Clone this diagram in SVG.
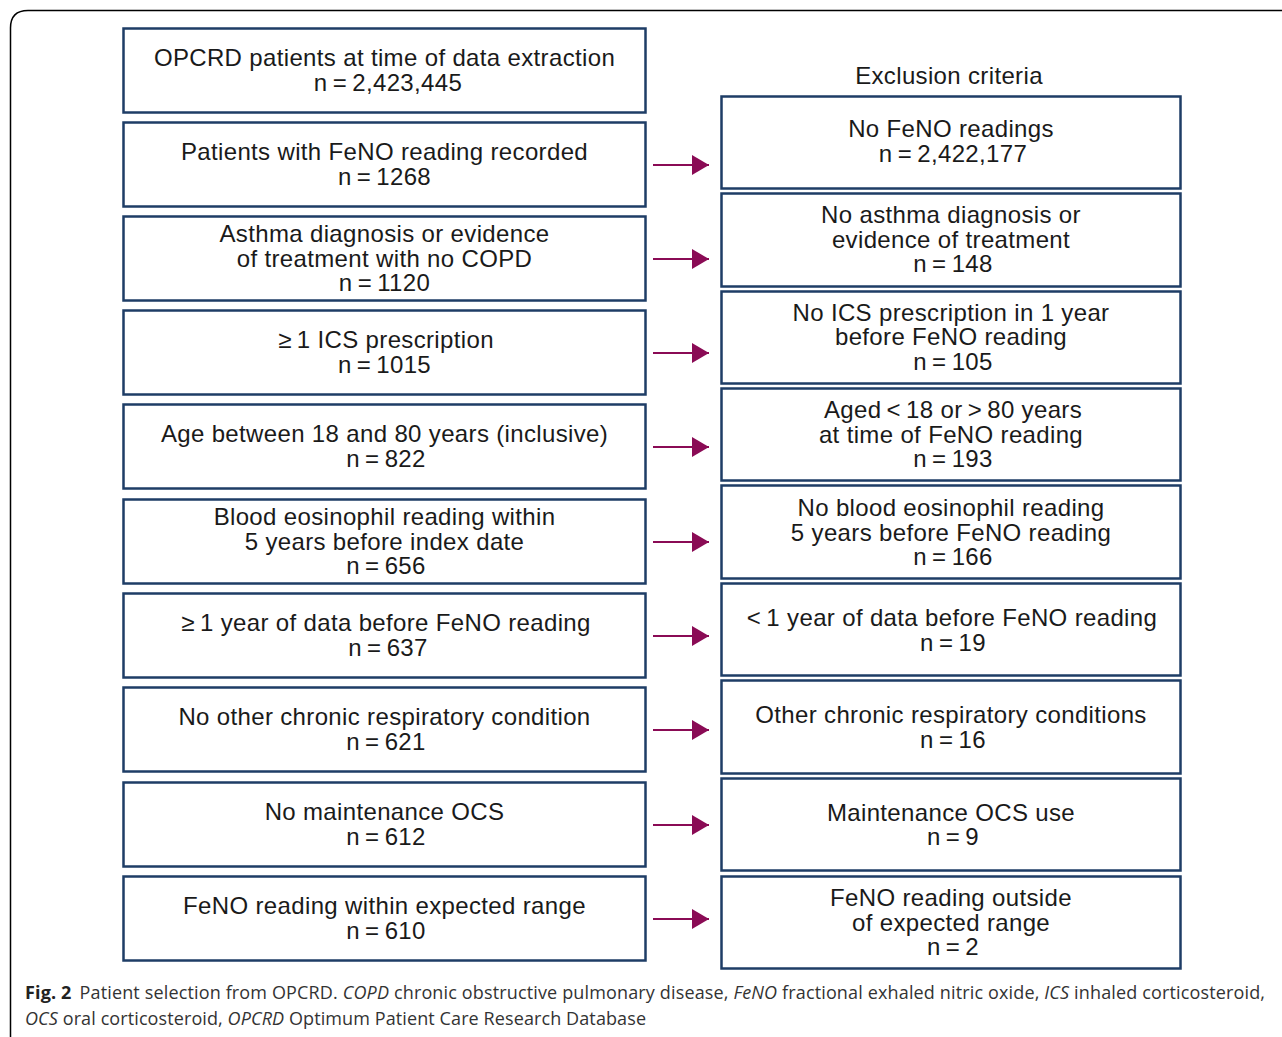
<svg xmlns="http://www.w3.org/2000/svg" width="1282" height="1037" viewBox="0 0 1282 1037">
<defs>
<style>
.box{fill:#fff;stroke:#1e3d66;stroke-width:2.5}
.t{font-family:"Liberation Sans",Arial,sans-serif;font-size:24px;letter-spacing:0.35px;fill:#1a1a1a;text-anchor:middle}
.conn line{stroke:#8a0b55;stroke-width:2.2}
.cap{font-family:"Open Sans","Noto Sans",sans-serif;font-size:18px;fill:#333}
</style>
<marker id="ah" viewBox="0 0 17 20" refX="17" refY="10" markerWidth="17" markerHeight="20" markerUnits="userSpaceOnUse" orient="auto">
<path d="M0,0 L17,10 L0,20 Z" fill="#8a0b55"/>
</marker>
</defs>
<rect width="1282" height="1037" fill="#fff"/>
<path d="M10.5,1040 L10.5,28 Q10.5,10.5 28,10.5 L1290,10.5" fill="none" stroke="#000" stroke-width="1.5"/>

<text class="t" x="949" y="84">Exclusion criteria</text>

<g id="inc1"><rect class="box" x="123.5" y="28.5" width="522" height="84"/><text class="t"><tspan x="384.5" y="66">OPCRD patients at time of data extraction</tspan><tspan x="388" y="90.5">n&#8201;=&#8201;2,423,445</tspan></text></g>
<g id="inc2"><rect class="box" x="123.5" y="122.5" width="522" height="84"/><text class="t"><tspan x="384.5" y="160">Patients with FeNO reading recorded</tspan><tspan x="384.5" y="184.5">n&#8201;=&#8201;1268</tspan></text></g>
<g id="inc3"><rect class="box" x="123.5" y="216.5" width="522" height="84"/><text class="t"><tspan x="384.5" y="242">Asthma diagnosis or evidence</tspan><tspan x="384.5" y="266.5">of treatment with no COPD</tspan><tspan x="384.5" y="291">n&#8201;=&#8201;1120</tspan></text></g>
<g id="inc4"><rect class="box" x="123.5" y="310.5" width="522" height="84"/><text class="t"><tspan x="386" y="348">≥&#8201;1 ICS prescription</tspan><tspan x="384.5" y="372.5">n&#8201;=&#8201;1015</tspan></text></g>
<g id="inc5"><rect class="box" x="123.5" y="404.5" width="522" height="84"/><text class="t"><tspan x="384.5" y="442">Age between 18 and 80 years (inclusive)</tspan><tspan x="386" y="466.5">n&#8201;=&#8201;822</tspan></text></g>
<g id="inc6"><rect class="box" x="123.5" y="499.5" width="522" height="84"/><text class="t"><tspan x="384.5" y="525">Blood eosinophil reading within</tspan><tspan x="384.5" y="549.5">5 years before index date</tspan><tspan x="386" y="574">n&#8201;=&#8201;656</tspan></text></g>
<g id="inc7"><rect class="box" x="123.5" y="593.5" width="522" height="84"/><text class="t"><tspan x="386" y="631">≥&#8201;1 year of data before FeNO reading</tspan><tspan x="388" y="655.5">n&#8201;=&#8201;637</tspan></text></g>
<g id="inc8"><rect class="box" x="123.5" y="687.5" width="522" height="84"/><text class="t"><tspan x="384.5" y="725">No other chronic respiratory condition</tspan><tspan x="386" y="749.5">n&#8201;=&#8201;621</tspan></text></g>
<g id="inc9"><rect class="box" x="123.5" y="782.5" width="522" height="84"/><text class="t"><tspan x="384.5" y="820">No maintenance OCS</tspan><tspan x="386" y="844.5">n&#8201;=&#8201;612</tspan></text></g>
<g id="inc10"><rect class="box" x="123.5" y="876.5" width="522" height="84"/><text class="t"><tspan x="384.5" y="914">FeNO reading within expected range</tspan><tspan x="386" y="938.5">n&#8201;=&#8201;610</tspan></text></g>

<g id="exc1"><rect class="box" x="721.5" y="96.5" width="459" height="92"/><text class="t"><tspan x="951" y="137">No FeNO readings</tspan><tspan x="953" y="161.5">n&#8201;=&#8201;2,422,177</tspan></text></g>
<g id="exc2"><rect class="box" x="721.5" y="193.5" width="459" height="93"/><text class="t"><tspan x="951" y="223">No asthma diagnosis or</tspan><tspan x="951" y="247.5">evidence of treatment</tspan><tspan x="953" y="272">n&#8201;=&#8201;148</tspan></text></g>
<g id="exc3"><rect class="box" x="721.5" y="291.5" width="459" height="92"/><text class="t"><tspan x="951" y="320.5">No ICS prescription in 1 year</tspan><tspan x="951" y="345">before FeNO reading</tspan><tspan x="953" y="369.5">n&#8201;=&#8201;105</tspan></text></g>
<g id="exc4"><rect class="box" x="721.5" y="388.5" width="459" height="92"/><text class="t"><tspan x="953" y="418">Aged&#8201;&lt;&#8201;18 or&#8201;&gt;&#8201;80 years</tspan><tspan x="951" y="442.5">at time of FeNO reading</tspan><tspan x="953" y="467">n&#8201;=&#8201;193</tspan></text></g>
<g id="exc5"><rect class="box" x="721.5" y="485.5" width="459" height="93"/><text class="t"><tspan x="951" y="516">No blood eosinophil reading</tspan><tspan x="951" y="540.5">5 years before FeNO reading</tspan><tspan x="953" y="565">n&#8201;=&#8201;166</tspan></text></g>
<g id="exc6"><rect class="box" x="721.5" y="583.5" width="459" height="92"/><text class="t"><tspan x="952" y="626">&lt;&#8201;1 year of data before FeNO reading</tspan><tspan x="953" y="650.5">n&#8201;=&#8201;19</tspan></text></g>
<g id="exc7"><rect class="box" x="721.5" y="680.5" width="459" height="93"/><text class="t"><tspan x="951" y="723">Other chronic respiratory conditions</tspan><tspan x="953" y="747.5">n&#8201;=&#8201;16</tspan></text></g>
<g id="exc8"><rect class="box" x="721.5" y="778.5" width="459" height="92"/><text class="t"><tspan x="951" y="820.5">Maintenance OCS use</tspan><tspan x="953" y="845">n&#8201;=&#8201;9</tspan></text></g>
<g id="exc9"><rect class="box" x="721.5" y="876.5" width="459" height="92"/><text class="t"><tspan x="951" y="906">FeNO reading outside</tspan><tspan x="951" y="930.5">of expected range</tspan><tspan x="953" y="955">n&#8201;=&#8201;2</tspan></text></g>

<g id="connectors" class="conn">
<line x1="653" y1="165" x2="709" y2="165" marker-end="url(#ah)"/>
<line x1="653" y1="259" x2="709" y2="259" marker-end="url(#ah)"/>
<line x1="653" y1="353" x2="709" y2="353" marker-end="url(#ah)"/>
<line x1="653" y1="447" x2="709" y2="447" marker-end="url(#ah)"/>
<line x1="653" y1="542" x2="709" y2="542" marker-end="url(#ah)"/>
<line x1="653" y1="636" x2="709" y2="636" marker-end="url(#ah)"/>
<line x1="653" y1="730" x2="709" y2="730" marker-end="url(#ah)"/>
<line x1="653" y1="825" x2="709" y2="825" marker-end="url(#ah)"/>
<line x1="653" y1="919" x2="709" y2="919" marker-end="url(#ah)"/>
</g>

<text class="cap" x="25" y="999" textLength="1240" lengthAdjust="spacing"><tspan font-weight="bold" fill="#222">Fig. 2</tspan><tspan dx="8">Patient selection from OPCRD. </tspan><tspan font-style="italic">COPD</tspan> chronic obstructive pulmonary disease, <tspan font-style="italic">FeNO</tspan> fractional exhaled nitric oxide, <tspan font-style="italic">ICS</tspan> inhaled corticosteroid,</text>
<text class="cap" x="25" y="1025" textLength="621" lengthAdjust="spacing"><tspan font-style="italic">OCS</tspan> oral corticosteroid, <tspan font-style="italic">OPCRD</tspan> Optimum Patient Care Research Database</text>
</svg>
